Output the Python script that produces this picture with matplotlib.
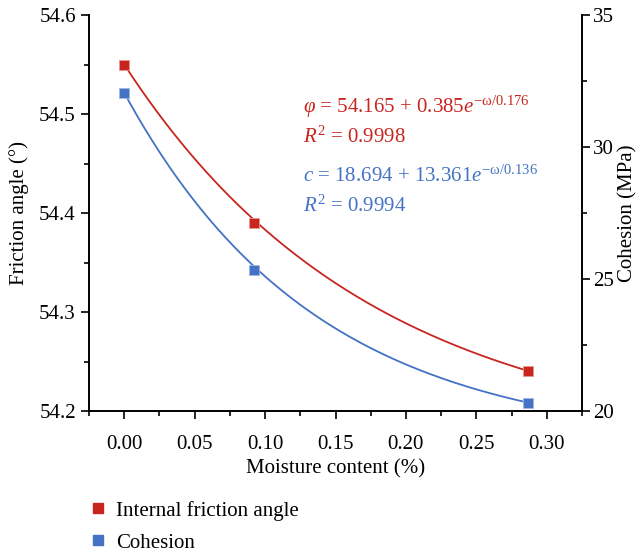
import numpy as np
import matplotlib
matplotlib.use("Agg")
import matplotlib.pyplot as plt
from matplotlib.ticker import MultipleLocator
from matplotlib.lines import Line2D

plt.rcParams['font.family'] = ['Liberation Serif', 'DejaVu Serif']
plt.rcParams['mathtext.fontset'] = 'custom'
plt.rcParams['mathtext.rm'] = 'Liberation Serif'
plt.rcParams['mathtext.it'] = 'Liberation Serif:italic'

# measured points
moisture = [0.0, 0.092, 0.287]
friction = [54.55, 54.39, 54.24]
cohesion = [32.05, 25.35, 20.30]

# exponential fits  y = y0 + A*exp(-w/t)
phi_fit = (54.165, 0.385, 0.176)
c_fit = (18.694, 13.361, 0.136)

red = '#C8251F'
blue = '#4472C4'
fs = 15

fig = plt.figure(figsize=(6.39, 5.54), dpi=100)
ax1 = fig.add_axes([0.1393, 0.2581, 0.7715, 0.7148])
ax2 = ax1.twinx()

w = np.linspace(moisture[0], moisture[-1], 200)
ax1.plot(w, phi_fit[0] + phi_fit[1] * np.exp(-w / phi_fit[2]), color=red, lw=1.3)
ax1.plot(moisture, friction, 's', color=red, ms=7, markeredgecolor='#e89890', markeredgewidth=0.6)
ax2.plot(w, c_fit[0] + c_fit[1] * np.exp(-w / c_fit[2]), color=blue, lw=1.3)
ax2.plot(moisture, cohesion, 's', color=blue, ms=7, markeredgecolor='#a0b8e0', markeredgewidth=0.6)

ax1.set_xlim(-0.025, 0.325)
ax1.set_ylim(54.2, 54.6)
ax2.set_ylim(20, 35)

ax1.xaxis.set_major_locator(MultipleLocator(0.05))
ax1.xaxis.set_minor_locator(MultipleLocator(0.025))
ax1.yaxis.set_major_locator(MultipleLocator(0.1))
ax1.yaxis.set_minor_locator(MultipleLocator(0.05))
ax2.yaxis.set_major_locator(MultipleLocator(5))
ax2.yaxis.set_minor_locator(MultipleLocator(2.5))
ax1.xaxis.set_major_formatter(plt.FormatStrFormatter('%.2f'))
ax1.yaxis.set_major_formatter(plt.FormatStrFormatter('%.1f'))

for ax in (ax1, ax2):
    ax.spines['top'].set_visible(False)
    for s in ax.spines.values():
        s.set_linewidth(1.2)
    ax.tick_params(which='major', direction='out', length=6, width=1.2, labelsize=fs)
    ax.tick_params(which='minor', direction='out', length=3.5, width=1.2)
ax1.tick_params(axis='x', pad=11)
ax2.tick_params(axis='y', pad=2)

ax1.set_xlabel('Moisture content (%)', fontsize=fs, labelpad=4)
ax1.set_ylabel('Friction angle (°)', fontsize=fs, labelpad=7)
ax2.set_ylabel('Cohesion (MPa)', fontsize=fs, labelpad=3)

tx = 0.474
ax1.text(tx, 0.796, r'$\varphi$ = 54.165 + 0.385$e^{-\mathrm{\omega/0.176}}$',
         transform=fig.transFigure, color=red, fontsize=fs)
ax1.text(tx, 0.742, r'$R^2$ = 0.9998', transform=fig.transFigure, color=red, fontsize=fs)
ax1.text(tx, 0.671, r'$c$ = 18.694 + 13.361$e^{-\mathrm{\omega/0.136}}$',
         transform=fig.transFigure, color=blue, fontsize=fs)
ax1.text(tx, 0.617, r'$R^2$ = 0.9994', transform=fig.transFigure, color=blue, fontsize=fs)

handles = [Line2D([], [], ls='none', marker='s', color=red, ms=7),
           Line2D([], [], ls='none', marker='s', color=blue, ms=7)]
fig.legend(handles, ['Internal friction angle', 'Cohesion'], loc='upper left',
           bbox_to_anchor=(0.105, 0.13), frameon=False, fontsize=fs,
           handletextpad=0.25, labelspacing=0.6, handlelength=1.2)

fig.savefig('out.png', dpi=100)
